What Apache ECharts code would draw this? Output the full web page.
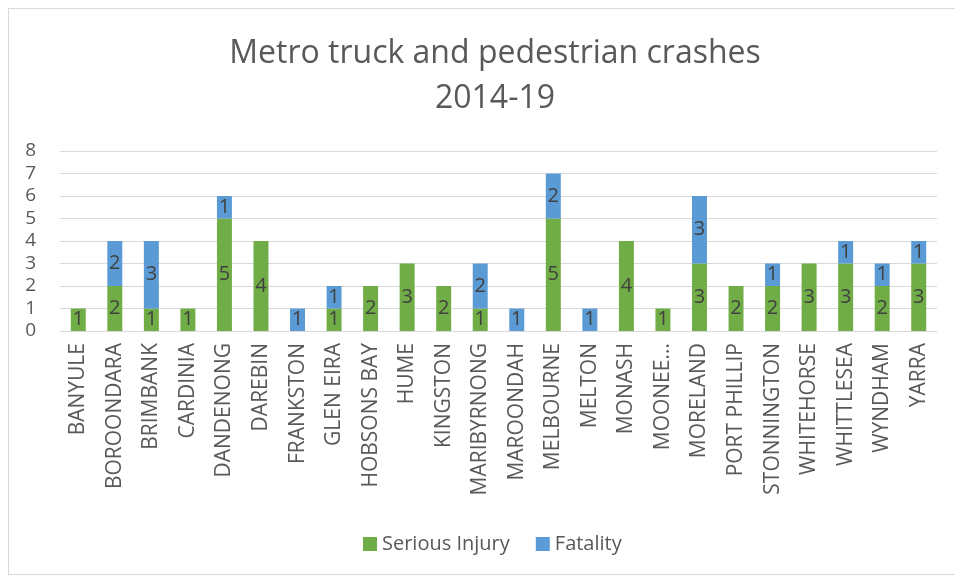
<!DOCTYPE html>
<html>
<head>
<meta charset="utf-8">
<script src="https://cdn.jsdelivr.net/npm/echarts@6/dist/echarts.min.js"></script>
<style>
  html, body { margin: 0; padding: 0; background: #fff; }
  #chart { width: 955px; height: 579px; }
  #frame { position: absolute; left: 8px; top: 8px; width: 960px; height: 567px; border: 1px solid #d9d9d9; box-sizing: border-box; pointer-events: none; }
</style>
</head>
<body>
<div id="chart"></div>
<div id="frame"></div>
<script>
const councils = [
  "BANYULE", "BOROONDARA", "BRIMBANK", "CARDINIA", "DANDENONG", "DAREBIN",
  "FRANKSTON", "GLEN EIRA", "HOBSONS BAY", "HUME", "KINGSTON", "MARIBYRNONG",
  "MAROONDAH", "MELBOURNE", "MELTON", "MONASH", "MOONEE VALLEY", "MORELAND",
  "PORT PHILLIP", "STONNINGTON", "WHITEHORSE", "WHITTLESEA", "WYNDHAM", "YARRA"
];
const seriousInjury = [1, 2, 1, 1, 5, 4, null, 1, 2, 3, 2, 1, null, 5, null, 4, 1, 3, 2, 2, 3, 3, 2, 3];
const fatality = [null, 2, 3, null, 1, null, 1, 1, null, null, null, 2, 1, 2, 1, null, null, 3, null, 1, null, 1, 1, 1];
const yTicks = [0, 1, 2, 3, 4, 5, 6, 7, 8];

const font = "'Open Sans', sans-serif";
const textColor = "#595959";

function label() {
  return {
    show: true,
    position: "inside",
    color: "#404040",
    fontFamily: font,
    fontSize: 20
  };
}

const chart = echarts.init(document.getElementById("chart"));

chart.setOption({
  animation: false,
  title: {
    text: "Metro truck and pedestrian crashes\n2014-19",
    left: 490,
    textAlign: "center",
    top: 26,
    textStyle: {
      color: textColor,
      fontFamily: font,
      fontWeight: "normal",
      fontSize: 32,
      lineHeight: 45
    }
  },
  legend: {
    bottom: 20,
    left: 358,
    itemWidth: 14,
    itemHeight: 14,
    itemGap: 26,
    icon: "rect",
    textStyle: { color: textColor, fontFamily: font, fontSize: 20 },
    data: ["Serious Injury", "Fatality"]
  },
  grid: { left: 60, right: 18, top: 151, bottom: 248 },
  xAxis: {
    type: "category",
    data: councils,
    axisLine: { lineStyle: { color: "#d9d9d9", width: 1 } },
    axisTick: { show: false },
    axisLabel: {
      rotate: 90,
      interval: 0,
      margin: 12,
      color: textColor,
      fontFamily: font,
      fontSize: 21,
      formatter: (v) => (v.length > 12 ? v.slice(0, 6) + "..." : v)
    }
  },
  yAxis: {
    type: "value",
    min: yTicks[0],
    max: yTicks[yTicks.length - 1],
    interval: 1,
    axisLine: { show: false },
    axisTick: { show: false },
    splitLine: { lineStyle: { color: "#d9d9d9", width: 1 } },
    axisLabel: {
      color: textColor,
      fontFamily: font,
      fontSize: 19,
      margin: 24
    }
  },
  series: [
    {
      name: "Serious Injury",
      type: "bar",
      stack: "total",
      barWidth: "41%",
      itemStyle: { color: "#70ad47" },
      label: label(),
      data: seriousInjury
    },
    {
      name: "Fatality",
      type: "bar",
      stack: "total",
      itemStyle: { color: "#5b9bd5" },
      label: label(),
      data: fatality
    }
  ]
});
</script>
</body>
</html>
